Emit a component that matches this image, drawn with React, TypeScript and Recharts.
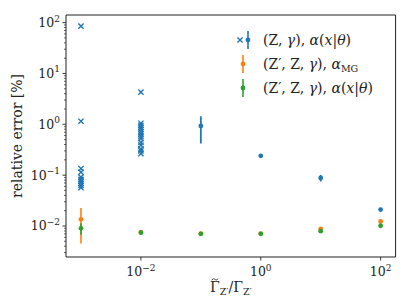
import React from 'react';
import { ScatterChart, Scatter, XAxis, YAxis, ErrorBar, ReferenceArea, Legend, Label } from 'recharts';

const BLUE = '#1f77b4';
const ORANGE = '#ff7f0e';
const GREEN = '#2ca02c';
const FONT = '"DejaVu Serif", serif';

// blue "x" markers (no error bars)
const crossRatios = [0.001, 0.01];
const crossValuesAt1e3 = [85, 1.15, 0.135, 0.115, 0.092, 0.083, 0.076, 0.069, 0.063, 0.057];
const crossValuesAt1e2 = [4.3, 1.05, 0.95, 0.87, 0.8, 0.72, 0.65, 0.58, 0.52, 0.44, 0.39, 0.33, 0.3, 0.265];

// blue dots with error bars
const blueRatios = [0.1, 1, 10, 100];
const blueValues = [0.93, 0.24, 0.088, 0.021];
const blueErrors = [0.51, 0.008, 0.013, 0.001];

// orange and green series
const ratios = [0.001, 0.01, 0.1, 1, 10, 100];
const orangeValues = [0.0135, 0.0076, 0.0071, 0.0071, 0.0088, 0.0123];
const orangeErrors = [0.009, 0.0002, 0.0001, 0.0001, 0.0003, 0.0003];
const greenValues = [0.009, 0.0074, 0.007, 0.007, 0.0079, 0.0101];
const greenErrors = [0.0023, 0.0002, 0.0001, 0.0001, 0.0002, 0.0002];

const xTicks = [0.01, 1, 100];
const yMajorTicks = [0.001, 0.01, 0.1, 1, 10, 100];
const xDomain = [Math.pow(10, -3.25), Math.pow(10, 2.25)];
const yDomain = [Math.pow(10, -2.61), Math.pow(10, 2.15)];

const yTicks: number[] = [];
yMajorTicks.forEach((m) => {
  for (let k = 1; k <= 9; k++) {
    const v = Number((k * m).toPrecision(3));
    if (v >= yDomain[0] && v <= yDomain[1]) yTicks.push(v);
  }
});

const crossData = [
  ...crossValuesAt1e3.map((y) => ({ x: crossRatios[0], y })),
  ...crossValuesAt1e2.map((y) => ({ x: crossRatios[1], y })),
];
const blueData = blueRatios.map((x, i) => ({ x, y: blueValues[i], err: blueErrors[i] }));
const orangeData = ratios.map((x, i) => ({ x, y: orangeValues[i], err: orangeErrors[i] }));
const greenData = ratios.map((x, i) => ({ x, y: greenValues[i], err: greenErrors[i] }));

const expLabel = (v: number) => {
  const e = Math.round(Math.log10(v));
  return e < 0 ? '\u2212' + String(-e) : String(e);
};
const isMajor = (v: number) => {
  const e = Math.round(Math.log10(v));
  return Math.abs(v - Math.pow(10, e)) < 1e-6 * v;
};

const YTick = (props: any) => {
  const { x, y, payload } = props;
  const v = payload.value;
  const major = isMajor(v);
  return (
    <g>
      <line x1={x - (major ? 3.5 : 2)} x2={x} y1={y} y2={y} stroke="#222" strokeWidth={major ? 0.9 : 0.7} />
      {major && (
        <text x={x - 6} y={y + 4.5} textAnchor="end" fontFamily={FONT} fontSize={12.5} fill="#222">
          10<tspan dy={-5.5} fontSize={9}>{expLabel(v)}</tspan>
        </text>
      )}
    </g>
  );
};

const XTick = (props: any) => {
  const { x, y, payload } = props;
  const v = payload.value;
  return (
    <g>
      <line x1={x} x2={x} y1={y} y2={y + 3.5} stroke="#222" strokeWidth={0.9} />
      <text x={x} y={y + 19} textAnchor="middle" fontFamily={FONT} fontSize={12.5} fill="#222">
        10<tspan dy={-5.5} fontSize={9}>{expLabel(v)}</tspan>
      </text>
    </g>
  );
};

const Cross = (props: any) => {
  const { cx, cy } = props;
  const s = 2.6;
  return (
    <path
      d={`M${cx - s},${cy - s}L${cx + s},${cy + s}M${cx - s},${cy + s}L${cx + s},${cy - s}`}
      stroke={BLUE}
      strokeWidth={1.4}
      fill="none"
    />
  );
};

const makeDot = (color: string) => (props: any) => {
  const { cx, cy } = props;
  return <circle cx={cx} cy={cy} r={2.4} fill={color} />;
};

const MathRow = ({ y, kind }: { y: number; kind: number }) => {
  const it = { fontStyle: 'italic' as const };
  return (
    <text x={33} y={y + 5} fontFamily={FONT} fontSize={14} fill="#222">
      {kind === 0 ? '(Z, ' : '(Z\u2032, Z, '}
      <tspan {...it}>γ</tspan>
      {'), '}
      <tspan {...it}>α</tspan>
      {kind === 1 ? (
        <tspan dy={3} fontSize={9.5}>MG</tspan>
      ) : (
        <>
          {'('}
          <tspan {...it}>x</tspan>
          {'|'}
          <tspan {...it}>θ</tspan>
          {')'}
        </>
      )}
    </text>
  );
};

const LegendContent = () => (
  <svg width={180} height={80} style={{ display: 'block', overflow: 'visible' }}>
    <path d="M7.4,12.4L12.6,17.6M7.4,17.6L12.6,12.4" stroke={BLUE} strokeWidth={1.4} fill="none" />
    <line x1={18} x2={18} y1={6} y2={24} stroke={BLUE} strokeWidth={1.6} />
    <circle cx={18} cy={15} r={2.4} fill={BLUE} />
    <line x1={13} x2={13} y1={30} y2={48} stroke={ORANGE} strokeWidth={1.6} />
    <circle cx={13} cy={39} r={2.4} fill={ORANGE} />
    <line x1={13} x2={13} y1={54} y2={72} stroke={GREEN} strokeWidth={1.6} />
    <circle cx={13} cy={63} r={2.4} fill={GREEN} />
    <MathRow y={15} kind={0} />
    <MathRow y={39} kind={1} />
    <MathRow y={63} kind={2} />
  </svg>
);

export default function App() {
  return (
    <div style={{ position: 'absolute', left: 0, top: 0, background: '#fff' }}>
      <ScatterChart width={411} height={308} margin={{ top: 15, right: 15.4, bottom: 0, left: 8 }}>
        <XAxis
          type="number"
          dataKey="x"
          scale="log"
          domain={xDomain}
          allowDataOverflow
          ticks={xTicks}
          interval={0}
          tick={<XTick />}
          tickLine={false}
          axisLine={false}
          tickSize={0}
          tickMargin={0}
          height={51}
        >
          <Label
            content={() => (
              <g>
                <text x={210} y={292} textAnchor="start" fontFamily={FONT} fontSize={14} fill="#222">
                  Γ<tspan dy={3} fontSize={9.5}>Z′</tspan>
                  <tspan dy={-3}>/Γ</tspan>
                  <tspan dy={3} fontSize={9.5}>Z′</tspan>
                </text>
                <path
                  d="M211.8,280.2 C212.8,278.2 214,278.6 214.9,279.3 C215.8,280 217,280.6 218,278.6"
                  stroke="#222"
                  strokeWidth={0.9}
                  fill="none"
                />
              </g>
            )}
          />
        </XAxis>
        <YAxis
          type="number"
          dataKey="y"
          scale="log"
          domain={yDomain}
          allowDataOverflow
          ticks={yTicks}
          interval={0}
          tick={<YTick />}
          tickLine={false}
          axisLine={false}
          tickSize={0}
          tickMargin={0}
          width={58}
        >
          <Label
            content={() => (
              <text
                x={22}
                y={136}
                transform="rotate(-90 22 136)"
                textAnchor="middle"
                fontFamily={FONT}
                fontSize={14}
                fill="#222"
              >
                relative error [%]
              </text>
            )}
          />
        </YAxis>
        <ReferenceArea
          x1={xDomain[0]}
          x2={xDomain[1]}
          y1={yDomain[0]}
          y2={yDomain[1]}
          fill="none"
          stroke="#222"
          strokeWidth={1}
          ifOverflow="visible"
        />
        <Scatter data={crossData} shape={<Cross />} isAnimationActive={false} />
        <Scatter data={blueData} shape={makeDot(BLUE)} isAnimationActive={false}>
          <ErrorBar dataKey="err" direction="y" width={0} stroke={BLUE} strokeWidth={1.8} />
        </Scatter>
        <Scatter data={orangeData} shape={makeDot(ORANGE)} isAnimationActive={false}>
          <ErrorBar dataKey="err" direction="y" width={0} stroke={ORANGE} strokeWidth={1.6} />
        </Scatter>
        <Scatter data={greenData} shape={makeDot(GREEN)} isAnimationActive={false}>
          <ErrorBar dataKey="err" direction="y" width={0} stroke={GREEN} strokeWidth={1.6} />
        </Scatter>
        <Legend
          layout="vertical"
          align="center"
          verticalAlign="middle"
          content={() => <LegendContent />}
          wrapperStyle={{ left: 230, top: 25, width: 180, height: 80 }}
        />
      </ScatterChart>
    </div>
  );
}
